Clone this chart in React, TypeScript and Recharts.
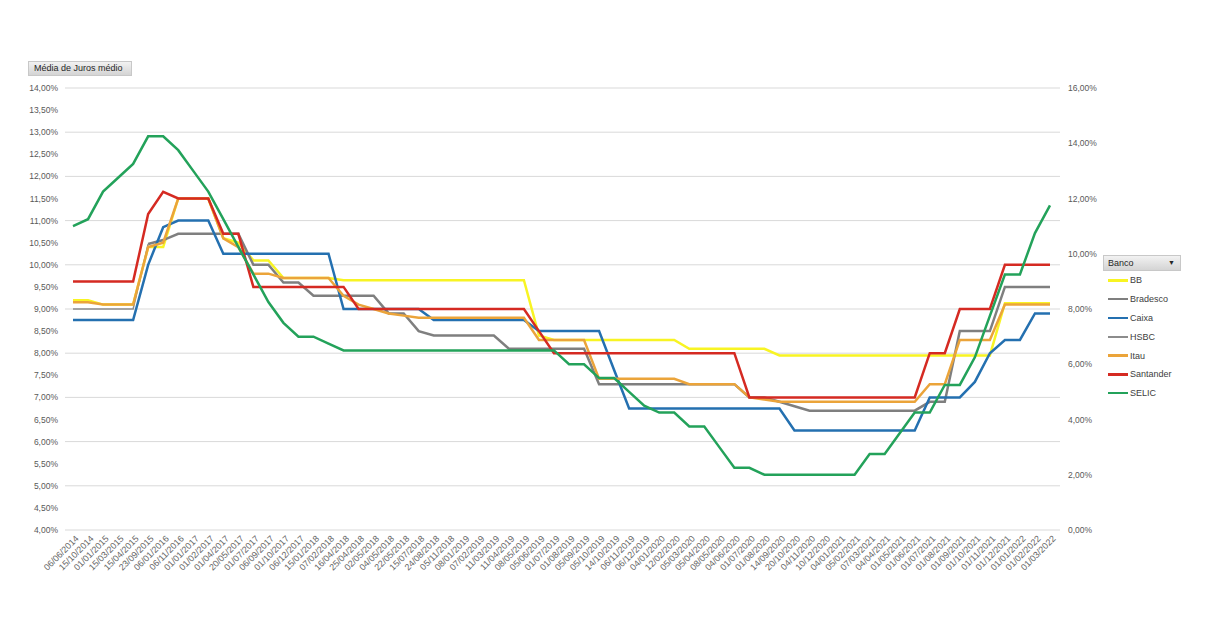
import { CartesianGrid, Line, LineChart, XAxis, YAxis } from 'recharts';

const dates = [
    '06/06/2014', '15/10/2014', '01/01/2015', '15/03/2015', '15/04/2015', '23/09/2015', '06/01/2016', '06/11/2016',
    '01/01/2017', '01/02/2017', '01/04/2017', '20/05/2017', '01/07/2017', '06/09/2017', '01/10/2017', '06/12/2017',
    '15/01/2018', '07/02/2018', '16/04/2018', '25/04/2018', '02/05/2018', '04/05/2018', '22/05/2018', '15/07/2018',
    '24/08/2018', '05/11/2018', '08/01/2019', '07/02/2019', '11/03/2019', '11/04/2019', '08/05/2019', '05/06/2019',
    '01/07/2019', '01/08/2019', '05/09/2019', '05/10/2019', '14/10/2019', '06/11/2019', '06/12/2019', '04/01/2020',
    '12/02/2020', '05/03/2020', '05/04/2020', '08/05/2020', '04/06/2020', '01/07/2020', '01/08/2020', '14/09/2020',
    '20/10/2020', '04/11/2020', '10/12/2020', '04/01/2021', '05/02/2021', '07/03/2021', '04/04/2021', '01/05/2021',
    '01/06/2021', '01/07/2021', '01/08/2021', '01/09/2021', '01/10/2021', '01/11/2021', '01/12/2021', '01/01/2022',
    '01/02/2022', '01/03/2022',
];

const bb = [
    9.2, 9.2, 9.1, 9.1, 9.1, 10.4, 10.4, 11.5, 11.5, 11.5, 10.6, 10.5, 10.1, 10.1, 9.7, 9.7,
    9.7, 9.7, 9.65, 9.65, 9.65, 9.65, 9.65, 9.65, 9.65, 9.65, 9.65, 9.65, 9.65, 9.65, 9.65, 8.4,
    8.3, 8.3, 8.3, 8.3, 8.3, 8.3, 8.3, 8.3, 8.3, 8.1, 8.1, 8.1, 8.1, 8.1, 8.1, 7.95,
    7.95, 7.95, 7.95, 7.95, 7.95, 7.95, 7.95, 7.95, 7.95, 7.95, 7.95, 7.95, 7.95, 7.95, 9.13, 9.13,
    9.13, 9.13,
];

const bradesco = [
    null, null, null, null, null, 10.47, 10.56, 10.7, 10.7, 10.7, 10.7, 10.7, 10.0, 10.0, 9.6, 9.6,
    9.3, 9.3, 9.3, 9.3, 9.3, 8.9, 8.9, 8.5, 8.4, 8.4, 8.4, 8.4, 8.4, 8.1, 8.1, 8.1,
    8.1, 8.1, 8.1, 7.3, 7.3, 7.3, 7.3, 7.3, 7.3, 7.3, 7.3, 7.3, 7.3, 7.0, 7.0, 6.9,
    6.8, 6.7, 6.7, 6.7, 6.7, 6.7, 6.7, 6.7, 6.7, 6.9, 6.9, 8.5, 8.5, 8.5, 9.5, 9.5,
    9.5, 9.5,
];

const caixa = [
    8.75, 8.75, 8.75, 8.75, 8.75, 10.0, 10.85, 11.0, 11.0, 11.0, 10.25, 10.25, 10.25, 10.25, 10.25, 10.25,
    10.25, 10.25, 9.0, 9.0, 9.0, 9.0, 9.0, 9.0, 8.75, 8.75, 8.75, 8.75, 8.75, 8.75, 8.75, 8.5,
    8.5, 8.5, 8.5, 8.5, 7.62, 6.75, 6.75, 6.75, 6.75, 6.75, 6.75, 6.75, 6.75, 6.75, 6.75, 6.75,
    6.25, 6.25, 6.25, 6.25, 6.25, 6.25, 6.25, 6.25, 6.25, 7.0, 7.0, 7.0, 7.35, 8.0, 8.3, 8.3,
    8.9, 8.9,
];

const hsbc = [
    9.0, 9.0, 9.0, 9.0, 9.0, 10.47, null, null, null, null, null, null, null, null, null, null,
    null, null, null, null, null, null, null, null, null, null, null, null, null, null, null, null,
    null, null, null, null, null, null, null, null, null, null, null, null, null, null, null, null,
    null, null, null, null, null, null, null, null, null, null, null, null, null, null, null, null,
    null, null,
];

const itau = [
    9.15, 9.15, 9.1, 9.1, 9.1, 10.4, 10.5, 11.5, 11.5, 11.5, 10.6, 10.4, 9.8, 9.8, 9.7, 9.7,
    9.7, 9.7, 9.3, 9.1, 9.0, 8.9, 8.85, 8.8, 8.8, 8.8, 8.8, 8.8, 8.8, 8.8, 8.8, 8.3,
    8.3, 8.3, 8.3, 7.42, 7.42, 7.42, 7.42, 7.42, 7.42, 7.3, 7.3, 7.3, 7.3, 7.0, 6.95, 6.9,
    6.9, 6.9, 6.9, 6.9, 6.9, 6.9, 6.9, 6.9, 6.9, 7.3, 7.3, 8.3, 8.3, 8.3, 9.1, 9.1,
    9.1, 9.1,
];

const santander = [
    9.62, 9.62, 9.62, 9.62, 9.62, 11.15, 11.65, 11.5, 11.5, 11.5, 10.7, 10.7, 9.5, 9.5, 9.5, 9.5,
    9.5, 9.5, 9.5, 9.0, 9.0, 9.0, 9.0, 9.0, 9.0, 9.0, 9.0, 9.0, 9.0, 9.0, 9.0, 8.5,
    8.0, 8.0, 8.0, 8.0, 8.0, 8.0, 8.0, 8.0, 8.0, 8.0, 8.0, 8.0, 8.0, 7.0, 7.0, 7.0,
    7.0, 7.0, 7.0, 7.0, 7.0, 7.0, 7.0, 7.0, 7.0, 8.0, 8.0, 9.0, 9.0, 9.0, 10.0, 10.0,
    10.0, 10.0,
];

const selic = [
    11.0, 11.25, 12.25, 12.75, 13.25, 14.25, 14.25, 13.75, 13.0, 12.25, 11.25, 10.25, 9.25, 8.25, 7.5, 7.0,
    7.0, 6.75, 6.5, 6.5, 6.5, 6.5, 6.5, 6.5, 6.5, 6.5, 6.5, 6.5, 6.5, 6.5, 6.5, 6.5,
    6.5, 6.0, 6.0, 5.5, 5.5, 5.0, 4.5, 4.25, 4.25, 3.75, 3.75, 3.0, 2.25, 2.25, 2.0, 2.0,
    2.0, 2.0, 2.0, 2.0, 2.0, 2.75, 2.75, 3.5, 4.25, 4.25, 5.25, 5.25, 6.25, 7.75, 9.25, 9.25,
    10.75, 11.75,
];

const leftTicks = [4, 4.5, 5, 5.5, 6, 6.5, 7, 7.5, 8, 8.5, 9, 9.5, 10, 10.5, 11, 11.5, 12, 12.5, 13, 13.5, 14];
const rightTicks = [0, 2, 4, 6, 8, 10, 12, 14, 16];

const series = [
    { key: 'BB', values: bb, color: '#f8f423', width: 2.5, axis: 'left' },
    { key: 'Bradesco', values: bradesco, color: '#7f7f7f', width: 2.5, axis: 'left' },
    { key: 'Caixa', values: caixa, color: '#2470b0', width: 2.5, axis: 'left' },
    { key: 'HSBC', values: hsbc, color: '#8c8c8c', width: 1.5, axis: 'left' },
    { key: 'Itau', values: itau, color: '#eba43a', width: 2.5, axis: 'left' },
    { key: 'Santander', values: santander, color: '#d52a22', width: 2.5, axis: 'left' },
    { key: 'SELIC', values: selic, color: '#23a25a', width: 2.5, axis: 'right' },
];

const data = dates.map((date, i) => {
    const row: Record<string, string | number | null> = { date };
    series.forEach((s) => {
        row[s.key] = s.values[i];
    });
    return row;
});

const font = '"Liberation Sans", Arial, sans-serif';
const pct = (v: number) => v.toFixed(2).replace('.', ',') + '%';

const DateTick = ({ x, y, payload }: any) => (
    <g transform={`translate(${x + 2},${y + 5})`}>
        <text textAnchor="end" transform="rotate(-45)" fontSize={9} fill="#666" fontFamily={font} dy={6}>
            {payload.value}
        </text>
    </g>
);

const App = () => {
    return (
        <div style={{ position: 'absolute', left: 0, top: 0, width: 1216, height: 625, background: '#fff', fontFamily: font }}>
            <div
                style={{
                    position: 'absolute',
                    left: 28,
                    top: 61,
                    width: 104,
                    height: 15,
                    background: 'linear-gradient(#f2f2f2, #d4d4d4)',
                    border: '1px solid #c8c8c8',
                    boxSizing: 'border-box',
                    fontSize: 9,
                    color: '#262626',
                    lineHeight: '13px',
                    paddingLeft: 5,
                }}
            >
                Média de Juros médio
            </div>
            <LineChart width={1216} height={625} data={data} margin={{ top: 88, right: 100, left: 0, bottom: 0 }}>
                <CartesianGrid yAxisId="left" vertical={false} stroke="#d9d9d9" />
                <XAxis
                    dataKey="date"
                    interval={0}
                    height={95}
                    tick={<DateTick />}
                    tickLine={false}
                    axisLine={false}
                    tickSize={0}
                    tickMargin={0}
                    padding={{ left: 8, right: 10 }}
                />
                <YAxis
                    yAxisId="left"
                    width={65}
                    domain={[4, 14]}
                    ticks={leftTicks}
                    tickFormatter={pct}
                    tickLine={false}
                    axisLine={false}
                    tickSize={0}
                    tickMargin={7}
                    tick={{ fontSize: 8.5, fill: '#595959', fontFamily: font }}
                />
                <YAxis
                    yAxisId="right"
                    orientation="right"
                    width={56}
                    domain={[0, 16]}
                    ticks={rightTicks}
                    tickFormatter={pct}
                    tickLine={false}
                    axisLine={false}
                    tickSize={0}
                    tickMargin={8}
                    tick={{ fontSize: 8.5, fill: '#595959', fontFamily: font, textAnchor: 'start' }}
                />
                {series.map((s) => (
                    <Line
                        key={s.key}
                        yAxisId={s.axis}
                        type="linear"
                        dataKey={s.key}
                        stroke={s.color}
                        strokeWidth={s.width}
                        dot={false}
                        activeDot={false}
                        isAnimationActive={false}
                    />
                ))}
            </LineChart>
            <div style={{ position: 'absolute', left: 1103, top: 255, width: 78 }}>
                <div
                    style={{
                        height: 16,
                        background: 'linear-gradient(#f2f2f2, #d4d4d4)',
                        border: '1px solid #c8c8c8',
                        boxSizing: 'border-box',
                        fontSize: 9,
                        color: '#262626',
                        lineHeight: '14px',
                        paddingLeft: 4,
                        position: 'relative',
                    }}
                >
                    Banco
                    <span style={{ position: 'absolute', right: 5, top: 0, fontSize: 7 }}>▼</span>
                </div>
                {series.map((s) => (
                    <div key={s.key} style={{ display: 'flex', alignItems: 'center', height: 18.8, paddingLeft: 5 }}>
                        <div style={{ width: 20, height: s.width, background: s.color }} />
                        <span style={{ fontSize: 9, color: '#404040', marginLeft: 2 }}>{s.key}</span>
                    </div>
                ))}
            </div>
        </div>
    );
};

export default App;
